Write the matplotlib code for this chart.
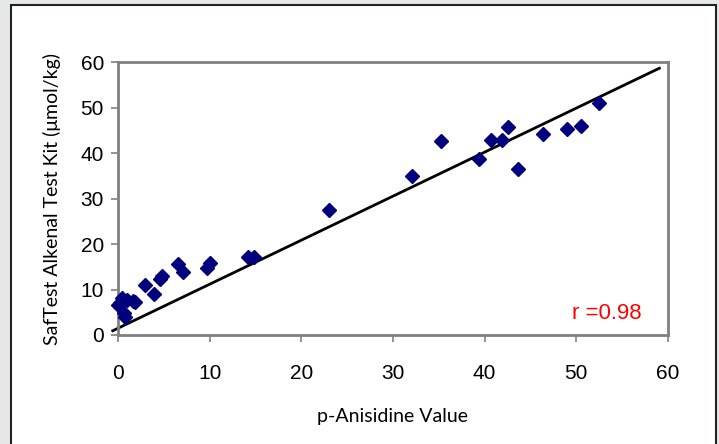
import matplotlib
matplotlib.use("Agg")
import matplotlib.pyplot as plt
from matplotlib.patches import Rectangle

# p-anisidine value vs SafTest alkenal reading
anisidine = [0.0, 0.2, 0.5, 0.8, 0.7, 1.0, 1.6, 1.9, 2.9, 3.9, 4.6, 4.8,
             6.5, 7.1, 9.7, 10.0, 14.2, 14.8, 23.0, 32.1, 35.2, 39.4,
             40.7, 41.9, 42.5, 43.6, 46.4, 49.0, 50.5, 52.5]
alkenal = [6.6, 7.0, 8.1, 4.0, 4.8, 7.7, 7.5, 7.3, 11.0, 9.0, 12.3, 13.0,
           15.6, 13.8, 14.7, 15.8, 17.1, 17.1, 27.5, 34.9, 42.6, 38.7,
           42.9, 42.9, 45.7, 36.5, 44.2, 45.3, 45.9, 51.0]

# trendline end points
fit_x = [-0.7, 59.2]
fit_y = [0.8, 58.8]
r_value = 0.98

ticks = [0, 10, 20, 30, 40, 50, 60]

fig = plt.figure(figsize=(7.19, 4.44), dpi=100)
fig.patch.set_facecolor("#e6e7e8")
fig.patches.append(Rectangle((11 / 719, -0.01), 705 / 719, 1 - 5 / 444 + 0.01,
                             transform=fig.transFigure, facecolor="white",
                             edgecolor="#222222", linewidth=1.5, zorder=-1))

ax = fig.add_axes([0.164, 0.2455, 0.765, 0.6145])
ax.set_zorder(1)
ax.plot(fit_x, fit_y, color="black", linewidth=2, solid_capstyle="butt",
        clip_on=False, zorder=2)
ax.plot(anisidine, alkenal, linestyle="none", marker="D", markersize=7.5,
        color="#00007f", clip_on=False, zorder=3)

ax.set_xlim(0, 60)
ax.set_ylim(0, 60)
ax.set_xticks(ticks)
ax.set_yticks(ticks)
for s in ax.spines.values():
    s.set_color("#808080")
    s.set_linewidth(2)
ax.tick_params(direction="out", length=5, width=1.2, color="#808080",
               labelsize=15, pad=5)
for lab in ax.get_xticklabels() + ax.get_yticklabels():
    lab.set_family("Liberation Sans")
ax.tick_params(axis="x", pad=16)

ax.text(49.5, 4.8, "r =%.2f" % r_value, color="#ff0000", fontsize=16,
        family="Liberation Sans", va="center", ha="left")

ax.set_xlabel("p-Anisidine Value", fontsize=14, family="Lato", labelpad=18)
ax.set_ylabel("SafTest Alkenal Test Kit (μmol/kg)", fontsize=14,
              family="Lato", labelpad=14)

fig.savefig("out.png", dpi=100)
